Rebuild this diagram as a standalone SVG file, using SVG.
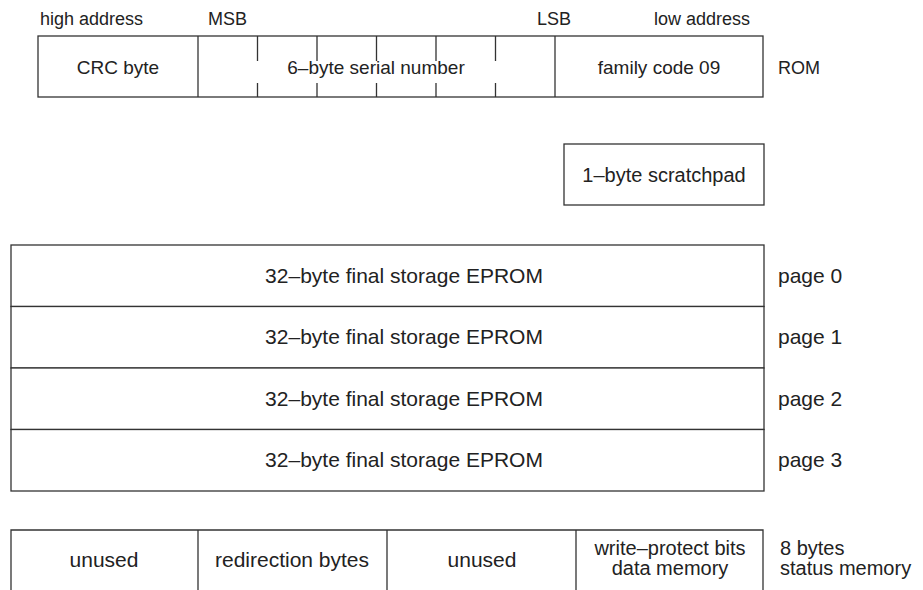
<svg xmlns="http://www.w3.org/2000/svg" width="923" height="590" viewBox="0 0 923 590">
<style>
.b{fill:#fff;stroke:#333;stroke-width:1.3}
.l{stroke:#333;stroke-width:1.3;fill:none}
text{font-family:"Liberation Sans",Arial,sans-serif;font-size:20px;fill:#222}
.s{font-size:18px}
.r{font-size:19px}
.p{font-size:21px}
.m{text-anchor:middle}
.e{text-anchor:end}
</style>
<rect width="923" height="590" fill="#fff"/>
<g id="labels-top">
<text x="40" y="25" class="s">high address</text>
<text x="208" y="25" class="s">MSB</text>
<text x="537" y="25" class="s">LSB</text>
<text x="702" y="25" class="s m">low address</text>
</g>
<g id="rom">
<rect class="b" x="38" y="36" width="725" height="61"/>
<line class="l" x1="198" y1="36" x2="198" y2="97"/>
<line class="l" x1="555" y1="36" x2="555" y2="97"/>
<path class="l" d="M257.5 36V61M257.5 83V97M317 36V61M317 83V97M376.5 36V61M376.5 83V97M436 36V61M436 83V97M495.5 36V61M495.5 83V97"/>
<text x="118" y="74" class="r m">CRC byte</text>
<text x="376" y="74" class="r m">6–byte serial number</text>
<text x="659" y="74" class="r m">family code 09</text>
<text x="778" y="74" class="s">ROM</text>
</g>
<g id="scratchpad">
<rect class="b" x="564" y="144" width="200" height="61"/>
<text x="664" y="182" class="m">1–byte scratchpad</text>
</g>
<g id="eprom">
<rect class="b" x="11" y="245" width="753" height="61.5"/>
<rect class="b" x="11" y="306.5" width="753" height="61.5"/>
<rect class="b" x="11" y="368" width="753" height="61.5"/>
<rect class="b" x="11" y="429.5" width="753" height="61.5"/>
<text x="404" y="283" class="p m">32–byte final storage EPROM</text>
<text x="404" y="344" class="p m">32–byte final storage EPROM</text>
<text x="404" y="406" class="p m">32–byte final storage EPROM</text>
<text x="404" y="467" class="p m">32–byte final storage EPROM</text>
<text x="778" y="283" class="p">page 0</text>
<text x="778" y="344" class="p">page 1</text>
<text x="778" y="406" class="p">page 2</text>
<text x="778" y="467" class="p">page 3</text>
</g>
<g id="status">
<path class="l" d="M11 591V530H763V591M198 530V591M387 530V591M576 530V591"/>
<text x="104" y="567" class="p m">unused</text>
<text x="292" y="567" class="p m">redirection bytes</text>
<text x="482" y="567" class="p m">unused</text>
<text x="670" y="555" class="m">write–protect bits</text>
<text x="670" y="575" class="m">data memory</text>
<text x="780" y="555">8 bytes</text>
<text x="780" y="575">status memory</text>
</g>
</svg>
